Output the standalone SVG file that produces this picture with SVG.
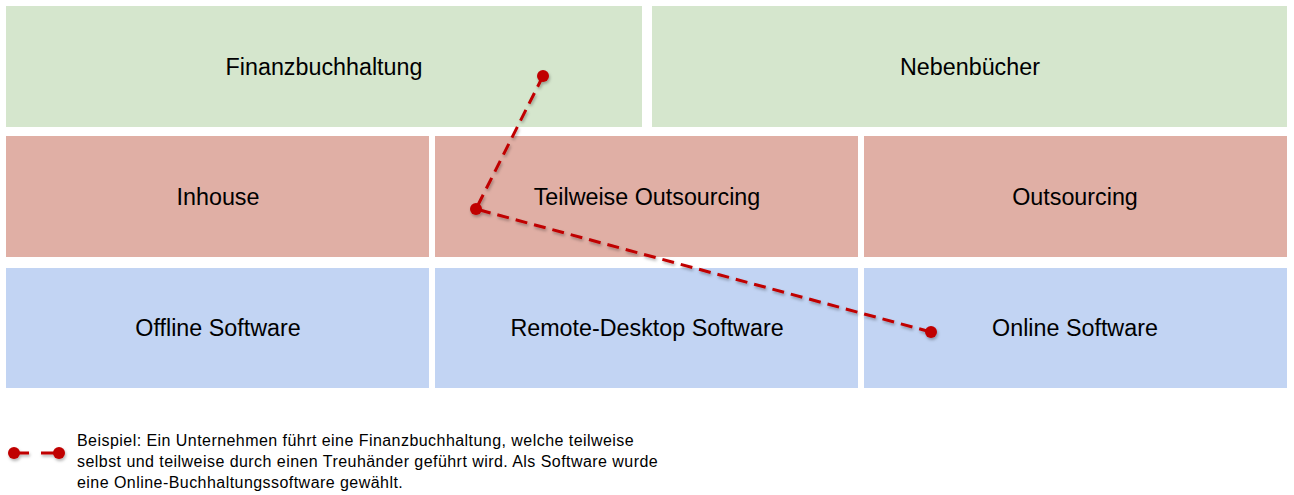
<svg xmlns="http://www.w3.org/2000/svg" width="1294" height="495" viewBox="0 0 1294 495">
<style>
.g{fill:#d5e6cd}
.r{fill:#e0afa5}
.b{fill:#c2d4f3}
.t{font-family:"Liberation Sans",Arial,sans-serif;font-size:23.3px;fill:#000;text-anchor:middle}
.lg{font-family:"Liberation Sans",Arial,sans-serif;font-size:16px;letter-spacing:0.45px;fill:#000}
.ln{stroke:#c00000;stroke-width:3;fill:none;stroke-dasharray:12 7}
.dot{fill:#c00000}
</style>
<defs>
<filter id="sh" x="-50%" y="-50%" width="200%" height="200%">
<feDropShadow dx="1" dy="2" stdDeviation="1.5" flood-color="#000" flood-opacity="0.3"/>
</filter>
</defs>
<rect width="1294" height="495" fill="#fff"/>
<g id="finanzbuchhaltung"><rect class="g" x="6" y="6" width="636" height="121"/><text class="t" x="324" y="75">Finanzbuchhaltung</text></g>
<g id="nebenbuecher"><rect class="g" x="652" y="6" width="635" height="121"/><text class="t" x="970" y="75">Nebenbücher</text></g>
<g id="inhouse"><rect class="r" x="6" y="136" width="423" height="121"/><text class="t" x="218" y="205">Inhouse</text></g>
<g id="teilweise"><rect class="r" x="435" y="136" width="423" height="121"/><text class="t" x="647" y="205">Teilweise Outsourcing</text></g>
<g id="outsourcing"><rect class="r" x="864" y="136" width="423" height="121"/><text class="t" x="1075" y="205">Outsourcing</text></g>
<g id="offline"><rect class="b" x="6" y="268" width="423" height="120"/><text class="t" x="218" y="336">Offline Software</text></g>
<g id="remote"><rect class="b" x="435" y="268" width="423" height="120"/><text class="t" x="647" y="336">Remote-Desktop Software</text></g>
<g id="online"><rect class="b" x="864" y="268" width="423" height="120"/><text class="t" x="1075" y="336">Online Software</text></g>
<g id="connectors" filter="url(#sh)">
<polyline class="ln" points="543,76 476,209 931,332"/>
<circle class="dot" cx="543" cy="76" r="6"/>
<circle class="dot" cx="476" cy="209" r="6"/>
<circle class="dot" cx="931" cy="332" r="6"/>
</g>
<g id="legend">
<g filter="url(#sh)">
<line x1="14" y1="453" x2="59" y2="453" stroke="#c00000" stroke-width="3" stroke-dasharray="15 12"/>
<circle class="dot" cx="14" cy="453" r="6"/>
<circle class="dot" cx="59" cy="453" r="6"/>
</g>
<text class="lg" x="77" y="446">Beispiel: Ein Unternehmen führt eine Finanzbuchhaltung, welche teilweise</text>
<text class="lg" x="77" y="467">selbst und teilweise durch einen Treuhänder geführt wird. Als Software wurde</text>
<text class="lg" x="77" y="488">eine Online-Buchhaltungssoftware gewählt.</text>
</g>
</svg>
